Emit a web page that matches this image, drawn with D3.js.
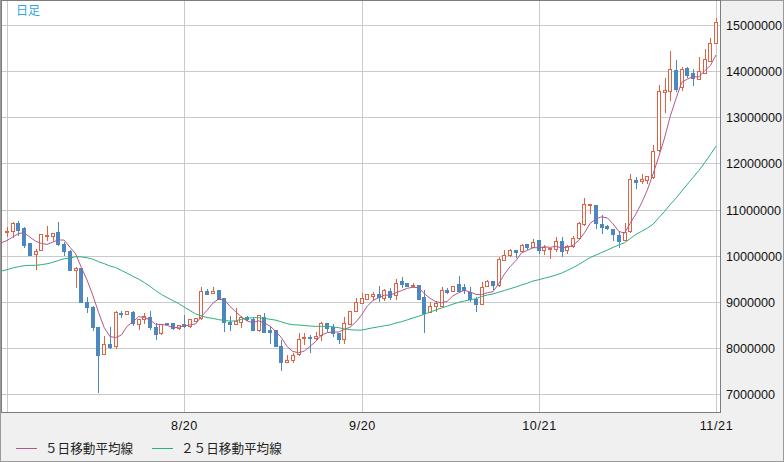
<!DOCTYPE html>
<html>
<head>
<meta charset="utf-8">
<script src="https://cdn.jsdelivr.net/npm/d3@7"></script>
<style>
html, body { margin: 0; padding: 0; background: #ffffff; }
svg { display: block; }
</style>
</head>
<body>
<svg id="chart" width="784" height="462"></svg>
<script>
// ---------- data (prices in millions of yen) ----------
const title = "日足";
const startDate = "2024-07-20";
const priceUnit = 1e6;

const openPrices = [
  10.51, 10.54, 10.70, 10.60, 10.27, 10.04, 10.13, 10.44, 10.42, 10.51,
  10.26, 10.10, 9.69, 9.73, 8.99, 8.89, 8.45, 7.87, 8.08, 8.03,
  8.76, 8.74, 8.77, 8.51, 8.62, 8.68, 8.45, 8.32, 8.54, 8.54,
  8.44, 8.51, 8.47, 8.59, 8.64, 9.23, 9.19, 9.25, 9.08, 8.56,
  8.52, 8.57, 8.68, 8.63, 8.39, 8.68, 8.39, 8.38, 8.05, 7.70,
  7.73, 7.86, 8.21, 8.24, 8.21, 8.27, 8.54, 8.46, 8.32, 8.20,
  8.52, 8.80, 8.98, 9.07, 9.13, 9.16, 9.09, 9.23, 9.14, 9.45,
  9.41, 9.34, 9.36, 9.10, 8.77, 8.91, 8.91, 9.26, 9.24, 9.38,
  9.31, 9.22, 9.05, 8.96, 9.35, 9.44, 9.37, 9.91, 10.02, 10.13,
  10.10, 10.25, 10.19, 10.34, 10.13, 10.15, 10.14, 10.31, 10.12, 10.20,
  10.38, 10.68, 11.10, 11.10, 10.69, 10.64, 10.57, 10.44, 10.34, 10.53,
  11.65, 11.62, 11.65, 11.70, 12.28, 13.55, 13.56, 14.02, 13.66, 14.06,
  13.95, 13.84, 13.97, 14.23, 14.62
];
const highPrices = [
  10.62, 10.73, 10.75, 10.61, 10.27, 10.15, 10.46, 10.64, 10.48, 10.73,
  10.30, 10.13, 9.76, 9.74, 9.10, 8.91, 8.46, 8.26, 8.46, 8.79,
  8.80, 8.79, 8.81, 8.62, 8.75, 8.80, 8.55, 8.52, 8.55, 8.55,
  8.50, 8.71, 8.63, 8.65, 9.31, 9.27, 9.31, 9.25, 9.08, 8.69,
  8.86, 8.70, 8.69, 8.64, 8.71, 8.75, 8.48, 8.38, 8.16, 7.84,
  7.88, 8.32, 8.32, 8.28, 8.35, 8.56, 8.54, 8.51, 8.32, 8.68,
  8.80, 9.09, 9.18, 9.16, 9.21, 9.34, 9.27, 9.30, 9.49, 9.54,
  9.41, 9.41, 9.36, 9.25, 9.00, 9.02, 9.31, 9.29, 9.35, 9.56,
  9.38, 9.33, 9.11, 9.43, 9.47, 9.44, 9.97, 10.12, 10.15, 10.13,
  10.26, 10.25, 10.35, 10.34, 10.23, 10.16, 10.41, 10.41, 10.24, 10.42,
  10.73, 11.24, 11.13, 11.10, 10.88, 10.66, 10.57, 10.54, 10.70, 11.77,
  11.71, 11.77, 11.72, 12.40, 13.70, 13.86, 14.44, 14.24, 14.10, 14.10,
  14.05, 14.31, 14.47, 14.71, 15.16
];
const lowPrices = [
  10.43, 10.40, 10.45, 10.19, 10.02, 9.71, 10.13, 10.33, 10.33, 10.22,
  10.01, 9.68, 9.33, 8.99, 8.78, 8.38, 7.05, 7.86, 8.00, 7.99,
  8.66, 8.73, 8.49, 8.41, 8.55, 8.40, 8.20, 8.31, 8.51, 8.41,
  8.41, 8.46, 8.45, 8.58, 8.63, 9.16, 9.19, 9.07, 8.37, 8.38,
  8.52, 8.45, 8.61, 8.38, 8.37, 8.35, 8.11, 8.03, 7.53, 7.70,
  7.69, 7.84, 8.08, 7.90, 8.20, 8.16, 8.36, 8.25, 8.11, 8.11,
  8.51, 8.80, 8.98, 9.05, 9.03, 9.01, 9.03, 9.07, 9.06, 9.33,
  9.35, 9.33, 9.06, 8.35, 8.77, 8.80, 8.91, 9.19, 9.24, 9.22,
  9.19, 9.02, 8.80, 8.95, 9.35, 9.27, 9.35, 9.91, 9.99, 9.98,
  10.10, 10.15, 10.19, 10.05, 10.03, 9.95, 10.11, 10.00, 10.06, 10.19,
  10.38, 10.67, 10.93, 10.59, 10.48, 10.57, 10.34, 10.18, 10.34, 10.52,
  11.46, 11.57, 11.58, 11.69, 12.26, 13.11, 13.37, 13.56, 13.59, 13.87,
  13.71, 13.83, 13.96, 14.22, 14.61
];
const closePrices = [
  10.54, 10.70, 10.56, 10.23, 10.02, 10.11, 10.46, 10.45, 10.48, 10.25,
  10.10, 9.69, 9.74, 8.99, 8.89, 8.46, 7.84, 8.08, 8.02, 8.77,
  8.73, 8.79, 8.53, 8.62, 8.69, 8.46, 8.31, 8.52, 8.52, 8.43,
  8.50, 8.47, 8.62, 8.64, 9.23, 9.17, 9.24, 9.07, 8.56, 8.51,
  8.59, 8.68, 8.62, 8.39, 8.71, 8.35, 8.35, 8.05, 7.70, 7.73,
  7.84, 8.20, 8.24, 8.21, 8.26, 8.55, 8.44, 8.33, 8.19, 8.55,
  8.79, 8.99, 9.09, 9.16, 9.16, 9.10, 9.25, 9.11, 9.41, 9.39,
  9.35, 9.37, 9.06, 8.75, 8.90, 8.98, 9.25, 9.22, 9.35, 9.23,
  9.25, 9.06, 8.96, 9.32, 9.44, 9.37, 9.92, 10.01, 10.13, 10.08,
  10.22, 10.18, 10.30, 10.13, 10.18, 10.16, 10.31, 10.10, 10.21, 10.39,
  10.71, 11.12, 11.12, 10.70, 10.61, 10.59, 10.47, 10.31, 10.52, 11.67,
  11.60, 11.67, 11.72, 12.26, 13.56, 13.59, 14.04, 13.61, 14.04, 13.91,
  13.86, 14.00, 14.27, 14.61, 15.06
];
// closes of the 25 days before the first visible candle (off-screen, feed the moving averages)
const priorCloses = [
  9.86, 9.76, 9.89, 9.69, 9.80, 10.09, 10.11, 9.98, 9.70, 9.20,
  9.15, 9.37, 8.98, 9.12, 9.32, 9.29, 9.17, 9.12, 9.32, 9.58,
  10.30, 10.32, 10.18, 10.14, 10.51
];

const priceTicks = [7, 8, 9, 10, 11, 12, 13, 14, 15];
const dateTicks = ["2024-07-20", "2024-08-20", "2024-09-20", "2024-10-21", "2024-11-21"];
const dateTickLabels = ["", "8/20", "9/20", "10/21", "11/21"];
const maPeriods = [5, 25];
const maLabels = ["５日移動平均線", "２５日移動平均線"];

// ---------- style ----------
const colUp = "#dc6344";
const colDown = "#4b88c0";
const maColors = ["#b3578a", "#2bb079"];
const gridColor = "#cacaca";
const panelColor = "#f0f0f0";

// ---------- layout ----------
const W = 784, H = 462;
const plot = { left: 1, top: 0, right: 720, bottom: 412 };

const parse = d3.utcParse("%Y-%m-%d");
const t0 = parse(startDate);
const dates = closePrices.map((_, i) => d3.utcDay.offset(t0, i));

const x = d3.scaleUtc()
  .domain([parse(dateTicks[0]), parse(dateTicks[dateTicks.length - 1])])
  .range([7, 716]);
const y = d3.scaleLinear()
  .domain([priceTicks[0] * priceUnit, priceTicks[priceTicks.length - 1] * priceUnit])
  .range([394, 25]);

const px = d => Math.round(x(d)) + 0.5;
const py = v => Math.round(y(v * priceUnit));

const svg = d3.select("#chart");

// backgrounds
svg.append("rect").attr("x", 0).attr("y", 0).attr("width", W).attr("height", H).attr("fill", panelColor);
svg.append("rect").attr("x", plot.left).attr("y", plot.top)
  .attr("width", plot.right - plot.left).attr("height", plot.bottom - plot.top).attr("fill", "#ffffff");

svg.append("defs").append("clipPath").attr("id", "clip")
  .append("rect").attr("x", plot.left + 1).attr("y", plot.top + 1)
  .attr("width", plot.right - plot.left - 1).attr("height", plot.bottom - plot.top - 1);

const g = svg.append("g").attr("clip-path", "url(#clip)");

// grid
g.selectAll("line.hgrid").data(priceTicks).join("line").attr("class", "hgrid")
  .attr("x1", plot.left).attr("x2", plot.right)
  .attr("y1", d => py(d) + 0.5).attr("y2", d => py(d) + 0.5)
  .attr("stroke", gridColor).attr("stroke-width", 1);
g.selectAll("line.vgrid").data(dateTicks).join("line").attr("class", "vgrid")
  .attr("x1", d => px(parse(d))).attr("x2", d => px(parse(d)))
  .attr("y1", plot.top).attr("y2", plot.bottom)
  .attr("stroke", gridColor).attr("stroke-width", 1);

// candles
const candles = closePrices.map((c, i) => ({
  date: dates[i], o: openPrices[i], h: highPrices[i], l: lowPrices[i], c: c
}));

const cg = g.append("g");
candles.forEach(d => {
  const cx = px(d.date);
  const up = d.c >= d.o;
  const col = up ? colUp : colDown;
  const top = py(Math.max(d.o, d.c));
  const bot = py(Math.min(d.o, d.c));
  cg.append("line")
    .attr("x1", cx).attr("x2", cx)
    .attr("y1", py(d.h)).attr("y2", py(d.l) + 1)
    .attr("stroke", col).attr("stroke-width", 1);
  if (up) {
    cg.append("rect")
      .attr("x", cx - 2).attr("y", top + 0.5)
      .attr("width", 3).attr("height", Math.max(bot - top, 1))
      .attr("fill", "#ffffff").attr("stroke", col).attr("stroke-width", 1);
  } else {
    cg.append("rect")
      .attr("x", cx - 2.5).attr("y", top)
      .attr("width", 4).attr("height", Math.max(bot - top + 1, 2))
      .attr("fill", col);
  }
});

// moving averages (from closes, including the off-screen prior days)
const allCloses = priorCloses.concat(closePrices);
const offset = priorCloses.length;
maPeriods.forEach((n, mi) => {
  const pts = [];
  for (let i = -1; i < closePrices.length; i++) {
    const k = i + offset;
    if (k - n + 1 < 0) continue;
    const v = d3.mean(allCloses.slice(k - n + 1, k + 1));
    pts.push({ date: d3.utcDay.offset(t0, i), v: v });
  }
  g.append("path")
    .datum(pts)
    .attr("fill", "none")
    .attr("stroke", maColors[mi])
    .attr("stroke-width", 1)
    .attr("d", d3.line().x(d => x(d.date)).y(d => y(d.v * priceUnit) + 0.5));
});

// frame
svg.append("rect").attr("x", 0.5).attr("y", 0.5).attr("width", W - 1).attr("height", H - 1)
  .attr("fill", "none").attr("stroke", "#9a9a9a");
svg.append("rect").attr("x", 1.5).attr("y", 0.5)
  .attr("width", plot.right - 1.5 + 0.5).attr("height", plot.bottom)
  .attr("fill", "none").attr("stroke", "#7c7c7c");

// price labels
const fmt = d3.format("d");
svg.selectAll("text.ylab").data(priceTicks).join("text").attr("class", "ylab")
  .attr("x", 726).attr("y", d => py(d) + 5)
  .attr("font-family", "'Liberation Sans', Arial, sans-serif")
  .attr("font-size", "12.6px").attr("fill", "#111")
  .text(d => fmt(d * priceUnit));

// date labels
svg.selectAll("text.xlab").data(dateTicks).join("text").attr("class", "xlab")
  .attr("x", d => px(parse(d))).attr("y", 430)
  .attr("text-anchor", "middle")
  .attr("font-family", "'Liberation Sans', Arial, sans-serif")
  .attr("font-size", "12.6px").attr("letter-spacing", "0.6px").attr("fill", "#111")
  .text((d, i) => dateTickLabels[i]);

// title
svg.append("text").attr("x", 16).attr("y", 15)
  .attr("font-family", "'Noto Sans CJK JP', sans-serif").attr("font-size", "12px")
  .attr("fill", "#2fa6e8").text(title);

// legend
const legendX = [16, 152];
maLabels.forEach((lab, i) => {
  svg.append("line").attr("x1", legendX[i]).attr("x2", legendX[i] + 21)
    .attr("y1", 448.5).attr("y2", 448.5).attr("stroke", maColors[i]).attr("stroke-width", 1);
  svg.append("text").attr("x", legendX[i] + 29).attr("y", 453)
    .attr("font-family", "'Noto Sans CJK JP', sans-serif").attr("font-size", "12.6px")
    .attr("fill", "#222").text(lab);
});
</script>
</body>
</html>
